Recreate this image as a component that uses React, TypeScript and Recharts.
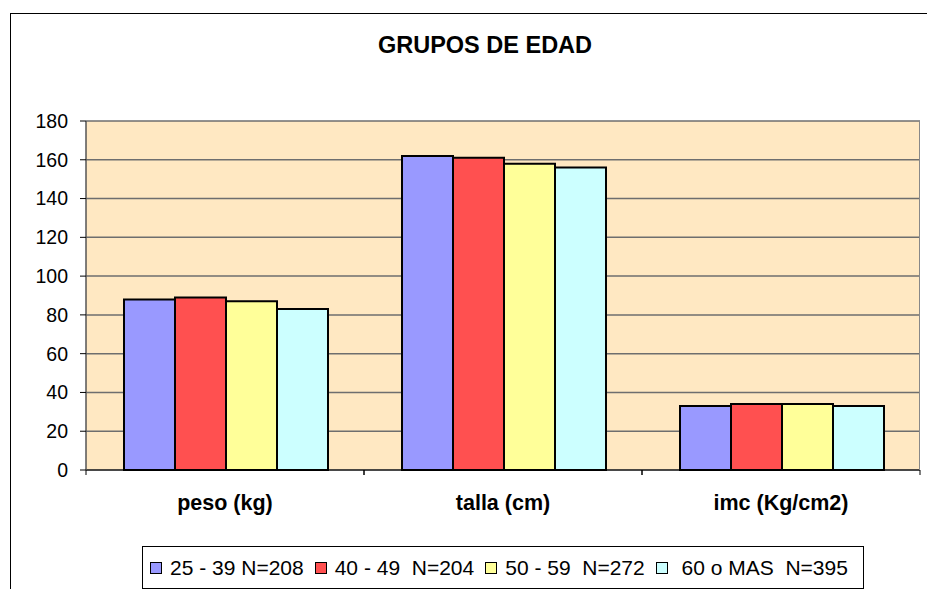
import { Bar, BarChart, CartesianGrid, XAxis, YAxis } from "recharts";

const categories = ["peso (kg)", "talla (cm)", "imc (Kg/cm2)"];
const g25 = [88, 162, 33];
const g40 = [89, 161, 34];
const g50 = [87, 158, 34];
const g60 = [83, 156, 33];
const yTicks = [0, 20, 40, 60, 80, 100, 120, 140, 160, 180];

const series = [
  { key: "g25", name: "25 - 39 N=208", color: "#9999FF" },
  { key: "g40", name: "40 - 49  N=204", color: "#FF5050" },
  { key: "g50", name: "50 - 59  N=272", color: "#FFFF99" },
  { key: "g60", name: " 60 o MAS  N=395", color: "#CCFFFF" },
];

const data = categories.map((c, i) => ({
  name: c,
  g25: g25[i],
  g40: g40[i],
  g50: g50[i],
  g60: g60[i],
}));

const font = "'Liberation Sans', Arial, sans-serif";

const XTick = (props: any) => {
  const { x, y, payload } = props;
  const half = payload.offset || 139;
  return (
    <g>
      <line x1={x - half} x2={x - half} y1={y - 8} y2={y - 3} stroke="#000" />
      <line x1={x + half} x2={x + half} y1={y - 8} y2={y - 3} stroke="#000" />
      <text
        x={x}
        y={y + 32}
        textAnchor="middle"
        fontFamily={font}
        fontWeight="bold"
        fontSize={21.5}
        fill="#000"
      >
        {payload.value}
      </text>
    </g>
  );
};

const LegendBox = () => (
  <div
    style={{
      position: "absolute",
      left: 142,
      top: 546,
      width: 722,
      height: 43,
      border: "1px solid #000",
      background: "#fff",
      display: "flex",
      alignItems: "center",
      paddingLeft: 7,
      boxSizing: "border-box",
      fontFamily: font,
      fontSize: 21,
      color: "#000",
    }}
  >
    {series.map((s) => (
      <span
        key={s.key}
        style={{ display: "flex", alignItems: "center", marginRight: 11, whiteSpace: "pre" }}
      >
        <span
          style={{
            display: "inline-block",
            width: 10,
            height: 10,
            background: s.color,
            border: "1px solid #000",
            marginRight: 8,
          }}
        />
        {s.name}
      </span>
    ))}
  </div>
);

export default function App() {
  return (
    <div
      style={{
        position: "absolute",
        left: 0,
        top: 0,
        width: 927,
        height: 589,
        overflow: "hidden",
        background: "#fff",
      }}
    >
      <div
        style={{
          position: "absolute",
          left: 10,
          top: 13,
          width: 1000,
          height: 700,
          border: "1px solid #000",
        }}
      />
      <div
        style={{
          position: "absolute",
          left: 0,
          top: 32,
          width: 970,
          textAlign: "center",
          fontFamily: font,
          fontWeight: "bold",
          fontSize: 23.5,
        }}
      >
        GRUPOS DE EDAD
      </div>
      <BarChart
        width={927}
        height={589}
        data={data}
        margin={{ top: 121, right: 7, bottom: 79, left: 16 }}
        barCategoryGap={38}
        barGap={0}
        style={{ position: "absolute", left: 0, top: 0 }}
      >
        <CartesianGrid
          vertical={false}
          fill="#FFE8C2"
          stroke="#6E6E6E"
          strokeWidth={1.5}
        />
        <XAxis
          dataKey="name"
          height={40}
          axisLine={{ stroke: "#000" }}
          tickLine={false}
          tick={<XTick />}
          interval={0}
        />
        <YAxis
          width={70}
          domain={[0, 180]}
          ticks={yTicks}
          interval={0}
          axisLine={{ stroke: "#555", strokeWidth: 1.5 }}
          tickLine={{ stroke: "#000" }}
          tickSize={6}
          tickMargin={12}
          tick={{ fill: "#000", fontFamily: font, fontSize: 19.5 }}
        />
        {series.map((s) => (
          <Bar
            key={s.key}
            dataKey={s.key}
            name={s.name}
            fill={s.color}
            stroke="#000"
            strokeWidth={2}
            isAnimationActive={false}
          />
        ))}
      </BarChart>
      <div
        style={{
          position: "absolute",
          left: 919,
          top: 121,
          width: 1,
          height: 349,
          background: "#888",
        }}
      />
      <LegendBox />
    </div>
  );
}
